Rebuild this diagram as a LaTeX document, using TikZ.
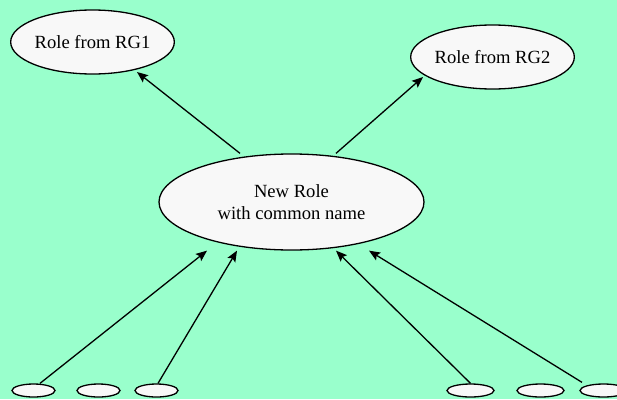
\documentclass[tikz,border=0pt]{standalone}
\usepackage{fontspec}
\setmainfont{Liberation Serif}
\usetikzlibrary{shapes.geometric,arrows.meta}
\definecolor{mint}{RGB}{153,255,204}
\definecolor{shell}{RGB}{248,248,248}
\begin{document}
\begin{tikzpicture}[x=1pt,y=-1pt,
    role/.style={ellipse,draw,line width=1.3pt,fill=shell,inner sep=0pt,
      font=\fontsize{18.6}{22}\selectfont,align=center},
    stub/.style={ellipse,draw,line width=1.3pt,fill=shell,inner sep=0pt,minimum height=13pt},
    link/.style={line width=1.3pt,-{Stealth[length=11pt,width=9pt,inset=2pt]}}]
    \fill[mint] (0,0) rectangle (617,399);
    \useasboundingbox (0,0) rectangle (617,399);
    \clip (0,0) rectangle (617,399);
    % roles
    \node[role,minimum width=161pt,minimum height=64pt] (rg1) at (92.5,42) {Role from RG1};
    \node[role,minimum width=161pt,minimum height=64pt] (rg2) at (492.5,57) {Role from RG2};
    \node[role,minimum width=265pt,minimum height=96pt] (new) at (291.5,202) {New Role\\with common name};
    % members
    \foreach \n/\x in {l1/33.5,l2/98.5,l3/156.5}
      \node[stub,minimum width=43pt] (\n) at (\x,390.5) {};
    \foreach \n/\x in {r1/470.5,r2/540.5,r3/603.5}
      \node[stub,minimum width=47pt] (\n) at (\x,390.5) {};
    % links
    \draw[link] ([shift={(-51.5,0)}]new.north) -- ([shift={(44.5,30)}]rg1.center);
    \draw[link] ([shift={(44.5,0)}]new.north) -- ([shift={(-69.5,20)}]rg2.center);
    \draw[link] ([shift={(6.5,0)}]l1.north) -- ([shift={(-84.5,0)}]new.south);
    \draw[link] ([shift={(1.5,0)}]l3.north) -- ([shift={(-54.5,0)}]new.south);
    \draw[link] (r1.north) -- ([shift={(44.5,0)}]new.south);
    \draw[link] ([shift={(-21.5,-1)}]r3.north) -- ([shift={(77.5,0)}]new.south);
\end{tikzpicture}
\end{document}
